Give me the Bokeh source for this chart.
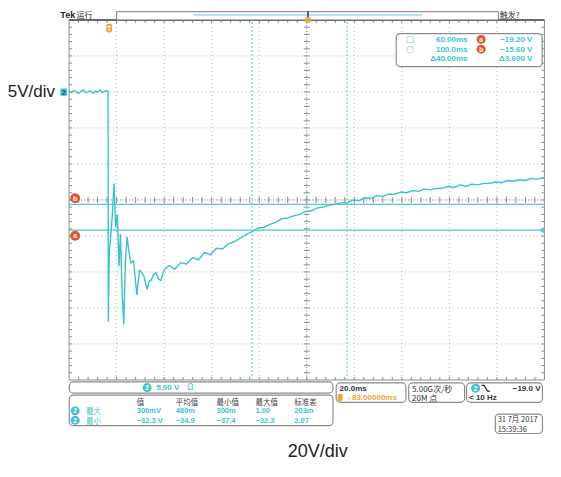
from bokeh.plotting import figure
from bokeh.models import Range1d
from bokeh.core.properties import value
from bokeh.embed import file_html
from bokeh.resources import INLINE
import math

# ---------------- data ----------------
time_ms = [-17, -16, -15, -14, -13, -12, -11, -10, -9, -8, -7, -6, -5, -4, -3, -2, -1, -0.6,
           -0.5, -0.1, 0.5, 1.2, 1.9, 2.6, 3.3, 4.0, 4.6, 5.3, 6.0, 6.7, 7.4, 8.1, 9.0, 10.1,
           11.5, 12.6, 13.5, 14.4, 15.8, 16.7, 17.6, 18.6, 19.6, 20.6, 21.7, 22.4, 23.0,
           25, 27.5, 30, 32.5, 35, 37.5, 40, 42.5, 45, 47.5, 50, 52.5, 55, 57.5, 60, 62.5,
           65, 67.5, 70, 72.5, 75, 77.5, 80, 82.5, 85, 87.5, 90, 92.5, 95, 97.5, 100, 102.5,
           105, 107.5, 110, 112.5, 115, 117.5, 120, 122.5, 125, 127.5, 130, 132.5, 135, 137.5,
           140, 142.5, 145, 147.5, 150, 152.5, 155, 157.5, 160, 162.5, 165, 167.5, 170, 172.5,
           175, 177.5, 180, 182.5, 183]
volts = [0.1, -0.1, 0.2, 0.0, -0.2, 0.1, 0.3, -0.1, 0.0, 0.2, -0.2, 0.1, 0.0, 0.3, -0.1, 0.1, 0.2, 0.0,
         -31.9, -22.4, -20.1, -17.0, -12.7, -18.8, -17.0, -24.2, -19.7, -27.8, -32.3, -23.4, -20.1, -22.0, -23.8, -23.4,
         -28.2, -24.7, -25.1, -25.5, -27.4, -26.3, -26.1, -25.3, -25.1, -26.0, -26.2, -25.3, -24.7,
         -24.1, -24.6, -23.7, -23.9, -23.0, -23.3, -22.3, -22.6, -21.7, -21.8, -21.1, -20.8, -20.3, -19.8, -19.4, -18.9,
         -18.8, -18.4, -18.1, -17.6, -17.5, -17.2, -17.0, -16.6, -16.5, -16.1, -16.0, -15.7, -15.6, -15.4, -15.4, -15.0,
         -15.1, -14.7, -14.8, -14.4, -14.5, -14.2, -14.2, -13.9, -14.0, -13.7, -13.8, -13.5, -13.6, -13.4,
         -13.4, -13.1, -13.3, -12.9, -13.1, -12.8, -12.9, -12.7, -12.7, -12.5, -12.6, -12.3, -12.4, -12.2,
         -12.3, -12.0, -12.1, -11.9, -12.0]

cursor_times = [60, 100]          # ms (vertical bar cursors)
cursor_volts = [-19.2, -15.6]     # V  (a, b)
t_left, t_right = -17, 183        # ms, screen window (20 ms/div)
v_bottom, v_top = -40, 10         # V, screen window (5 V/div)
time_per_div = 20
volt_per_div = 5

readout_times = ["60.00ms", "100.0ms", "\u039440.00ms"]
readout_volts = ["\u221219.20 V", "\u221215.60 V", "\u03943.600 V"]
meas_headers = ["\u503c", "\u5e73\u5747\u503c", "\u6700\u5c0f\u503c", "\u6700\u5927\u503c", "\u6807\u51c6\u5dee"]
meas_row_max = ["300mV", "480m", "300m", "1.00", "203m"]
meas_row_min = ["\u221232.3 V", "\u221234.9", "\u221237.4", "\u221232.3", "2.07"]

# ---------------- geometry helpers (reference pixel -> data) ----------------
W, H = 545, 461
K = 0.973


def fx(xr):
    return xr * K


def fy(yr):
    return yr * K


GL, GR = fx(70.5), fx(559)
GT, GB = fy(20), fy(390)
ms_px = (t_right - t_left) / (GR - GL)
v_px = (v_top - v_bottom) / (GB - GT)
x_start = t_left - GL * ms_px
x_end = x_start + W * ms_px
y_end = v_top + GT * v_px
y_start = y_end - H * v_px


def X(xr):
    return x_start + fx(xr) * ms_px


def Y(yr):
    return y_end - fy(yr) * v_px


CYAN = "#3cc4cf"
ORANGE = "#e4572e"
TRIG = "#f0a534"
DARK = "#333333"
BOXLINE = "#8c8c8c"
LATIN = value("Liberation Sans")
CJK = value("Noto Sans CJK SC")

p = figure(width=W, height=H, x_range=Range1d(x_start, x_end), y_range=Range1d(y_start, y_end),
           output_backend="svg", toolbar_location=None, x_axis_location=None, y_axis_location=None,
           min_border=0, outline_line_color=None, title=None,
           background_fill_color="white", border_fill_color="white")
p.xgrid.visible = False
p.ygrid.visible = False


def txt(xs, ys, texts, size, color, font=LATIN, align="left", bold=False):
    p.text(x=[X(a) for a in xs], y=[Y(b) for b in ys], text=texts,
           text_font=font, text_font_size=f"{size}px", text_color=color,
           text_align=align, text_baseline="middle",
           text_font_style="bold" if bold else "normal")


def boxes(rects, line_color, fill_color=None, radius=0, width=1.0):
    p.quad(left=[X(r[0]) for r in rects], right=[X(r[2]) for r in rects],
           top=[Y(r[1]) for r in rects], bottom=[Y(r[3]) for r in rects],
           fill_color=fill_color, fill_alpha=1.0 if fill_color else 0.0,
           line_color=line_color, line_width=width, border_radius=int(radius))


def badges(xs, ys, labels, color, size=9, tsize=6.5):
    p.scatter(x=[X(a) for a in xs], y=[Y(b) for b in ys], size=size, marker="circle",
              fill_color=color, line_color=None)
    txt(xs, ys, labels, tsize, "white", align="center", bold=True)


# ---------------- graticule ----------------
n_div = 10
vx = [t_left + time_per_div * i for i in range(1, n_div)]
hy = [v_bottom + volt_per_div * j for j in range(1, n_div)]
p.segment(x0=vx, y0=[v_bottom] * len(vx), x1=vx, y1=[v_top] * len(vx),
          line_color="#b5b5b5", line_dash="1 3", line_width=1)
p.segment(x0=[t_left] * len(hy), y0=hy, x1=[t_right] * len(hy), y1=hy,
          line_color="#b5b5b5", line_dash="1 3", line_width=1)

t_c = (t_left + t_right) / 2
v_c = (v_bottom + v_top) / 2
p.segment(x0=[t_c, t_left], y0=[v_bottom, v_c], x1=[t_c, t_right], y1=[v_top, v_c],
          line_color="#9a9a9a", line_dash="1 2", line_width=1)

xt = [t_left + time_per_div / 5 * k for k in range(1, 5 * n_div)]
yt = [v_bottom + volt_per_div / 5 * k for k in range(1, 5 * n_div)]
L = 3
# ticks on center lines
p.segment(x0=xt, y0=[v_c - L * v_px] * len(xt), x1=xt, y1=[v_c + L * v_px] * len(xt),
          line_color="#8a8a8a", line_width=1)
p.segment(x0=[t_c - L * ms_px] * len(yt), y0=yt, x1=[t_c + L * ms_px] * len(yt), y1=yt,
          line_color="#8a8a8a", line_width=1)
# ticks on border
p.segment(x0=xt + xt, y0=[v_bottom] * len(xt) + [v_top] * len(xt), x1=xt + xt,
          y1=[v_bottom + L * v_px] * len(xt) + [v_top - L * v_px] * len(xt),
          line_color="#8a8a8a", line_width=1)
p.segment(x0=[t_left] * len(yt) + [t_right] * len(yt), y0=yt + yt,
          x1=[t_left + L * ms_px] * len(yt) + [t_right - L * ms_px] * len(yt), y1=yt + yt,
          line_color="#8a8a8a", line_width=1)
# border
p.quad(left=[t_left], right=[t_right], top=[v_top], bottom=[v_bottom],
       fill_alpha=0, line_color="#8c8c8c", line_width=1)
p.segment(x0=[t_left], y0=[v_top], x1=[t_right], y1=[v_top], line_color="#4a4a4a", line_width=1.5)

# ---------------- cursors ----------------
p.segment(x0=cursor_times, y0=[v_bottom] * 2, x1=cursor_times, y1=[v_top] * 2,
          line_color="#a6d8ec", line_dash="2 2", line_width=1.8)
p.segment(x0=[t_left] * 2, y0=cursor_volts, x1=[t_right] * 2, y1=cursor_volts,
          line_color="#4ccbd5", line_width=1.3)
p.scatter(x=[t_right - 2 * ms_px], y=[cursor_volts[0]], marker="triangle", angle=math.pi / 2,
          size=6, fill_color="#4ccbd5", line_color=None)

# ---------------- waveform ----------------
p.line(time_ms, volts, line_color="#38c2cd", line_width=1.4)

# ---------------- on-screen markers ----------------
boxes([(61.5, 90.5, 68.5, 98)], None, CYAN, radius=1)
txt([65], [94.3], ["2"], 6.5, "#0b4f57", align="center", bold=True)
boxes([(108.7, 23.8, 114.7, 32.8)], None, TRIG, radius=2)
txt([111.7], [28.5], ["T"], 6.5, "white", align="center", bold=True)
badges([76.7, 76.7], [203.3, 241.7], ["b", "a"], ORANGE, size=10, tsize=7)

# ---------------- top strip ----------------
txt([61.5], [14.5], ["Tek"], 9, "#222222", bold=True)
txt([78], [14.5], ["\u8fd0\u884c"], 8, DARK, font=CJK)
boxes([(119.3, 11.5, 511.7, 20)], "#7a7a7a", "white")
p.segment(x0=[X(198.3)], y0=[Y(15)], x1=[X(433.3)], y1=[Y(15)], line_color="#9fdde4", line_width=1.5)
p.segment(x0=[X(316)], y0=[Y(11)], x1=[X(316)], y1=[Y(20)], line_color="#333333", line_width=1.5)
p.scatter(x=[X(316)], y=[Y(20)], size=6, marker="circle", fill_color=TRIG, line_color=None)
txt([513], [14.5], ["\u89e6\u53d1?"], 8, DARK, font=CJK)

# ---------------- cursor readout ----------------
boxes([(406.7, 34, 556.7, 68)], BOXLINE, "white", radius=4, width=1.2)
txt([420.7, 420.7], [40, 50], ["\u25a1", "\u25cb"], 9, "#86bfcd", font=value("DejaVu Sans"), align="center")
txt([480, 480, 480], [40, 50, 60], readout_times, 8, CYAN, align="right", bold=True)
badges([494, 494], [40, 50], ["a", "b"], ORANGE, size=9, tsize=6.5)
txt([546.7, 546.7, 546.7], [40, 50, 60], readout_volts, 8, CYAN, align="right", bold=True)

# ---------------- bottom panels ----------------
boxes([(70.7, 392, 341.7, 403.5), (70.7, 405.5, 341.7, 437), (345, 393, 416.7, 413),
       (419.5, 393, 477, 413), (479, 393, 557, 413), (508.5, 425, 557, 445)],
      BOXLINE, "white", radius=4, width=1.2)
badges([150.7], [397.8], ["2"], CYAN, size=9, tsize=6.5)
txt([160], [397.8], ["5.00 V"], 8, CYAN, bold=True)
txt([192], [397.8], ["\u03a9"], 8, CYAN, font=value("DejaVu Sans"))

mx = [140, 180, 222, 262, 302]
txt(mx, [412] * 5, meas_headers, 7.5, "#444444", font=CJK)
badges([76.7, 76.7], [421.7, 431.5], ["2", "2"], CYAN, size=9, tsize=6.5)
txt([88, 88], [421.7, 431.5], ["\u6700\u5927", "\u6700\u5c0f"], 7.5, CYAN, font=CJK)
txt(mx, [421.7] * 5, meas_row_max, 7.5, CYAN, bold=True)
txt(mx, [431.5] * 5, meas_row_min, 7.5, CYAN, bold=True)

txt([348.5], [398.5], ["20.0ms"], 8, DARK, bold=True)
boxes([(346.5, 404.5, 351.5, 411.5)], None, TRIG, radius=1)
txt([353], [408], ["\u219283.00000ms"], 8, TRIG, bold=True)

txt([423, 423], [398.5, 408], ["5.00G\u6b21/\u79d2", "20M \u70b9"], 8, DARK, font=CJK)

badges([488.3], [398.5], ["2"], CYAN, size=9, tsize=6.5)
p.line(x=[X(494.5), X(497), X(500.5), X(503)], y=[Y(395.5), Y(395.5), Y(401.5), Y(401.5)],
       line_color="#222222", line_width=1.2)
txt([555], [398.5], ["\u221219.0 V"], 8, DARK, align="right", bold=True)
txt([481.5], [408], ["< 10 Hz"], 8, DARK, bold=True)

txt([511, 511], [430, 440], ["31 7\u6708 2017", "15:39:36"], 7.5, DARK, font=CJK)

# ---------------- outside labels ----------------
txt([7.5], [94], ["5V/div"], 17, "#222222")
txt([326], [463.5], ["20V/div"], 18, "#222222", align="center")

open("out.html", "w").write(file_html(p, INLINE))
